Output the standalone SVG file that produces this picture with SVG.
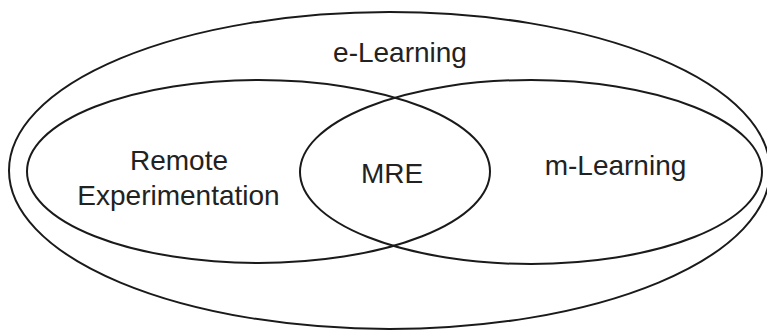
<svg xmlns="http://www.w3.org/2000/svg" width="767" height="331" viewBox="0 0 767 331">
  <style>
    .set { fill: none; stroke: #1a1a1a; stroke-width: 2; }
    .label { font-family: "Liberation Sans", Arial, sans-serif; font-size: 28px; fill: #222; text-anchor: middle; }
  </style>
  <rect width="767" height="331" fill="#ffffff"/>
  <g id="e-learning">
    <ellipse class="set" cx="389.5" cy="170.5" rx="380.5" ry="158.5"/>
    <text class="label" x="400" y="62">e-Learning</text>
  </g>
  <g id="remote-experimentation">
    <ellipse class="set" cx="258.5" cy="171.5" rx="231.5" ry="91.5"/>
    <text class="label" x="179" y="170">Remote</text>
    <text class="label" x="178.5" y="205">Experimentation</text>
  </g>
  <g id="m-learning">
    <ellipse class="set" cx="531" cy="172" rx="231" ry="92"/>
    <text class="label" x="615.5" y="175">m-Learning</text>
  </g>
  <g id="mre">
    <text class="label" x="392" y="183">MRE</text>
  </g>
  <g id="connectors"/>
</svg>
